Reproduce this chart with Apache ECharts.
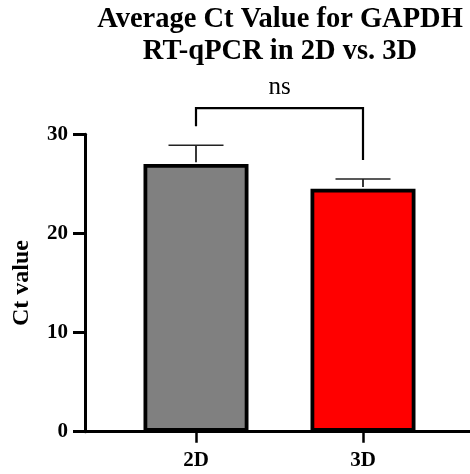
<!DOCTYPE html>
<html>
<head>
<meta charset="utf-8">
<script src="https://cdn.jsdelivr.net/npm/echarts@6/dist/echarts.min.js"></script>
<style>
html,body{margin:0;padding:0;background:#fff;}
#chart{width:470px;height:474px;}
</style>
</head>
<body>
<div id="chart"></div>
<script>
// ---- data ----
const categories = ['2D', '3D'];
const means = [27.0, 24.5];
const errorTops = [28.9, 25.5];
const barColors = ['#808080', '#ff0000'];
const yMin = 0, yMax = 30, yInterval = 10;
const sigLabel = 'ns';
const titleLines = ['Average Ct Value for GAPDH', 'RT-qPCR in 2D vs. 3D'];
const yName = 'Ct value';

const FONT = 'Liberation Serif';
const chart = echarts.init(document.getElementById('chart'), null, {renderer: 'canvas'});

const gridTop = 134.3, gridBottom = 42.3;

const option = {
  backgroundColor: '#ffffff',
  animation: false,
  title: {
    text: titleLines.join('\n'),
    left: 280,
    top: 4,
    padding: 0,
    textAlign: 'center',
    textStyle: {fontFamily: FONT, fontWeight: 'bold', fontSize: 28.5, lineHeight: 32, color: '#000'}
  },
  grid: [
    {left: 112.5, right: 23.5, top: gridTop, bottom: gridBottom},
    {left: 85, right: 0, top: gridTop, bottom: gridBottom}
  ],
  xAxis: [
    {
      type: 'category', gridIndex: 0, data: categories,
      axisLine: {show: false},
      axisTick: {show: true, alignWithLabel: true, length: 11, lineStyle: {color: '#000', width: 2.5}},
      axisLabel: {fontFamily: FONT, fontWeight: 'bold', fontSize: 21, color: '#000', margin: 18}
    },
    {
      type: 'value', gridIndex: 1, min: 0, max: 1,
      axisLine: {show: true, lineStyle: {color: '#000', width: 3}},
      axisTick: {show: false}, axisLabel: {show: false}, splitLine: {show: false}
    }
  ],
  yAxis: [
    {type: 'value', gridIndex: 0, min: yMin, max: yMax, show: false, splitLine: {show: false}},
    {
      type: 'value', gridIndex: 1, min: yMin, max: yMax, interval: yInterval,
      name: yName, nameLocation: 'middle', nameGap: 51, nameRotate: 90,
      nameTextStyle: {fontFamily: FONT, fontWeight: 'bold', fontSize: 24, color: '#000'},
      axisLine: {show: true, lineStyle: {color: '#000', width: 3}},
      axisTick: {show: true, length: 12, lineStyle: {color: '#000', width: 3}},
      axisLabel: {fontFamily: FONT, fontWeight: 'bold', fontSize: 21, color: '#000', margin: 17},
      splitLine: {show: false}
    }
  ],
  series: [
    {
      type: 'bar', xAxisIndex: 0, yAxisIndex: 0, barWidth: 105, z: 3,
      data: means.map((v, i) => ({value: v, itemStyle: {color: barColors[i], borderColor: '#000', borderWidth: 3.8}}))
    },
    {
      type: 'custom', xAxisIndex: 0, yAxisIndex: 0, z: 4, clip: false,
      data: means.map((v, i) => [i, v, errorTops[i]]),
      renderItem: function (params, api) {
        const base = api.coord([api.value(0), api.value(1)]);
        const top = api.coord([api.value(0), api.value(2)]);
        const half = 27.5;
        return {
          type: 'group',
          children: [
            {type: 'line', shape: {x1: base[0], y1: base[1] - 1.9, x2: top[0], y2: top[1]}, style: {stroke: '#222', lineWidth: 1.8}},
            {type: 'line', shape: {x1: top[0] - half, y1: top[1], x2: top[0] + half, y2: top[1]}, style: {stroke: '#222', lineWidth: 1.5}}
          ]
        };
      }
    },
    {
      type: 'custom', xAxisIndex: 0, yAxisIndex: 0, z: 4, clip: false,
      data: [[0, 1]],
      renderItem: function (params, api) {
        const a = api.value(0), b = api.value(1);
        const pa = api.coord([a, errorTops[a]]);
        const pb = api.coord([b, errorTops[b]]);
        const topY = Math.min(pa[1], pb[1]) - 37;
        const legA = pa[1] - 19, legB = pb[1] - 19;
        return {
          type: 'group',
          children: [
            {type: 'polyline', shape: {points: [[pa[0], legA], [pa[0], topY], [pb[0], topY], [pb[0], legB]]},
             style: {stroke: '#000', lineWidth: 2.2, fill: null}},
            {type: 'text', x: (pa[0] + pb[0]) / 2, y: topY - 8,
             style: {text: sigLabel, fontFamily: FONT, fontSize: 25, fill: '#000', align: 'center', verticalAlign: 'bottom'}}
          ]
        };
      }
    }
  ]
};
chart.setOption(option);
</script>
</body>
</html>
